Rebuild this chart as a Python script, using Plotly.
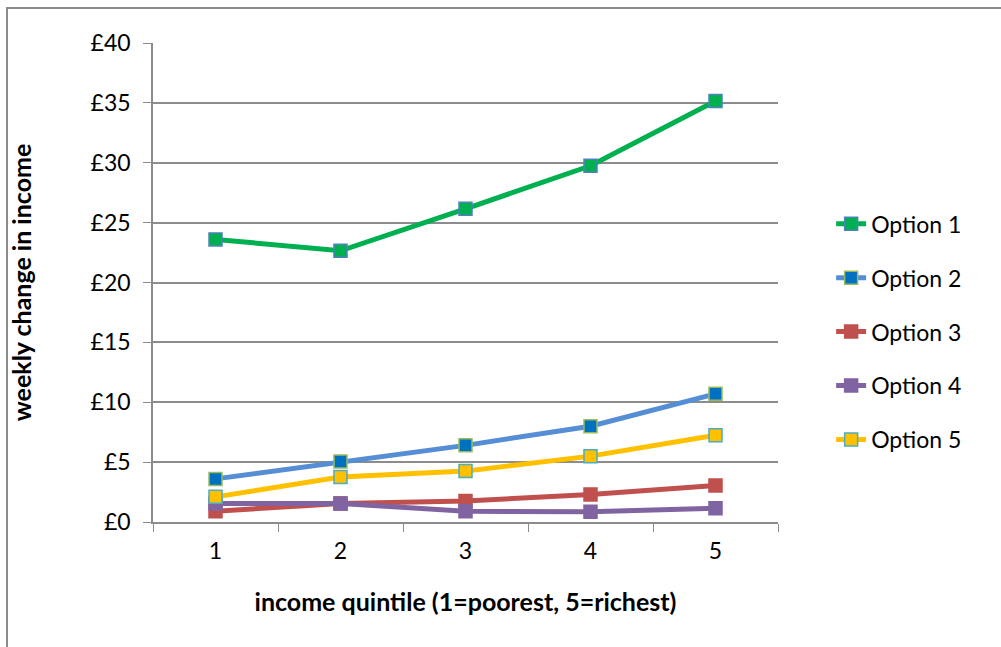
import plotly.graph_objects as go

# Weekly change in income by income quintile, five policy options
quintiles = ["1", "2", "3", "4", "5"]
option_1 = [23.6, 22.65, 26.15, 29.75, 35.15]
option_2 = [3.6, 5.05, 6.4, 8.0, 10.7]
option_3 = [0.9, 1.55, 1.75, 2.3, 3.05]
option_4 = [1.55, 1.55, 0.9, 0.85, 1.15]
option_5 = [2.1, 3.75, 4.25, 5.5, 7.25]

y_ticks = [0, 5, 10, 15, 20, 25, 30, 35, 40]
y_tick_labels = ["£" + str(v) for v in y_ticks]

FONT = "Lato, Open Sans, sans-serif"
GRID = "#8c8c8c"

series = [
    ("Option 1", option_1, "#00B050", "#00B050", "#4F81BD"),
    ("Option 2", option_2, "#558ED5", "#0070C0", "#9BBB59"),
    ("Option 3", option_3, "#C0504D", "#C0504D", "#C0504D"),
    ("Option 4", option_4, "#8064A2", "#8064A2", "#8064A2"),
    ("Option 5", option_5, "#FFC000", "#FFC000", "#4BACC6"),
]

fig = go.Figure()
for i, (name, vals, line_c, fill_c, edge_c) in enumerate(series):
    fig.add_trace(go.Scatter(
        x=quintiles, y=vals, name=name, mode="lines+markers",
        legendgroup=str(i),
        line=dict(color=line_c, width=5),
        marker=dict(symbol="square", size=13, color=fill_c,
                    line=dict(color=edge_c, width=1.5)),
    ))

fig.update_layout(
    width=1001, height=647,
    margin=dict(l=153, r=223, t=43, b=125),
    paper_bgcolor="white", plot_bgcolor="white",
    font=dict(family=FONT, size=23, color="black"),
    showlegend=True,
    legend=dict(x=1.085, y=0.397, xanchor="left", yanchor="middle",
                font=dict(size=23), tracegroupgap=21,
                bgcolor="rgba(0,0,0,0)"),
    xaxis=dict(
        type="category", range=[-0.5, 4.5],
        tickson="boundaries", ticks="outside", ticklen=8,
        tickcolor=GRID, showline=True, linecolor=GRID, linewidth=1.5,
        showgrid=False, zeroline=False, ticklabelstandoff=8,
        tickfont=dict(size=23),
        title=dict(text="<b>income quintile (1=poorest, 5=richest)</b>",
                   font=dict(size=25), standoff=30),
    ),
    yaxis=dict(
        range=[0, 40], tickvals=y_ticks, ticktext=y_tick_labels,
        ticks="outside", ticklen=8, tickcolor=GRID,
        showline=True, linecolor=GRID, linewidth=1.5,
        showgrid=True, gridcolor=GRID, gridwidth=1.5, zeroline=False,
        ticklabelstandoff=8, tickfont=dict(size=23),
        title=dict(text="<b>weekly change in income</b>",
                   font=dict(size=25), standoff=52),
    ),
)

# Chart-area frame running off the right and bottom edges
fig.add_shape(type="rect", xref="paper", yref="paper",
              x0=(7 - 153) / 625, x1=(1010 - 153) / 625,
              y0=(522 - 660) / 479, y1=(522 - 8) / 479,
              line=dict(color="#8c8c8c", width=2), layer="below")

fig.write_html("out.html")
